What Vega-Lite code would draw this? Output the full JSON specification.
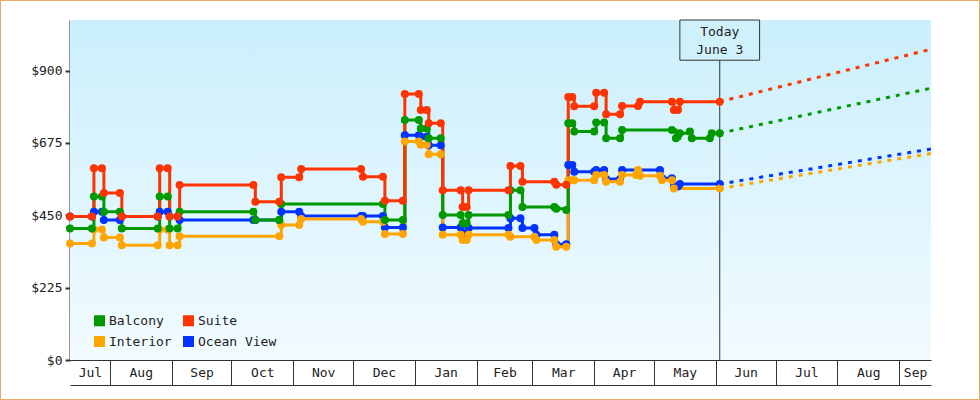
{
  "$schema": "https://vega.github.io/schema/vega-lite/v6.json",
  "width": 861,
  "height": 340,
  "autosize": {"type": "none"},
  "padding": {"left": 70, "top": 20, "right": 49, "bottom": 40},
  "background": "white",
  "config": {
    "view": {"stroke": null},
    "font": "DejaVu Sans Mono",
    "axis": {"labelFont": "DejaVu Sans Mono", "labelFontSize": 13, "labelColor": "#222", "grid": false, "domainColor": "#333", "tickColor": "#333", "title": null},
    "legend": {"labelFont": "DejaVu Sans Mono", "labelFontSize": 13, "labelColor": "#222"}
  },
  "datasets": {
    "prices": [
      {"d": "2018-07-12", "s": "Ocean View", "v": 446},
      {"d": "2018-07-23", "s": "Ocean View", "v": 446},
      {"d": "2018-07-24", "s": "Ocean View", "v": 461},
      {"d": "2018-07-28", "s": "Ocean View", "v": 461},
      {"d": "2018-07-29", "s": "Ocean View", "v": 435},
      {"d": "2018-08-06", "s": "Ocean View", "v": 435},
      {"d": "2018-08-07", "s": "Ocean View", "v": 446},
      {"d": "2018-08-25", "s": "Ocean View", "v": 446},
      {"d": "2018-08-26", "s": "Ocean View", "v": 461},
      {"d": "2018-08-30", "s": "Ocean View", "v": 461},
      {"d": "2018-08-31", "s": "Ocean View", "v": 446},
      {"d": "2018-09-04", "s": "Ocean View", "v": 446},
      {"d": "2018-09-05", "s": "Ocean View", "v": 435},
      {"d": "2018-10-12", "s": "Ocean View", "v": 435},
      {"d": "2018-10-13", "s": "Ocean View", "v": 435},
      {"d": "2018-10-25", "s": "Ocean View", "v": 435},
      {"d": "2018-10-26", "s": "Ocean View", "v": 461},
      {"d": "2018-11-04", "s": "Ocean View", "v": 461},
      {"d": "2018-11-05", "s": "Ocean View", "v": 448},
      {"d": "2018-12-05", "s": "Ocean View", "v": 448},
      {"d": "2018-12-06", "s": "Ocean View", "v": 448},
      {"d": "2018-12-16", "s": "Ocean View", "v": 448},
      {"d": "2018-12-17", "s": "Ocean View", "v": 412},
      {"d": "2018-12-26", "s": "Ocean View", "v": 412},
      {"d": "2018-12-27", "s": "Ocean View", "v": 699},
      {"d": "2019-01-03", "s": "Ocean View", "v": 699},
      {"d": "2019-01-04", "s": "Ocean View", "v": 694},
      {"d": "2019-01-07", "s": "Ocean View", "v": 694},
      {"d": "2019-01-08", "s": "Ocean View", "v": 668},
      {"d": "2019-01-14", "s": "Ocean View", "v": 668},
      {"d": "2019-01-15", "s": "Ocean View", "v": 412},
      {"d": "2019-01-24", "s": "Ocean View", "v": 412},
      {"d": "2019-01-25", "s": "Ocean View", "v": 394},
      {"d": "2019-01-27", "s": "Ocean View", "v": 394},
      {"d": "2019-01-28", "s": "Ocean View", "v": 410},
      {"d": "2019-02-17", "s": "Ocean View", "v": 410},
      {"d": "2019-02-18", "s": "Ocean View", "v": 441},
      {"d": "2019-02-23", "s": "Ocean View", "v": 441},
      {"d": "2019-02-24", "s": "Ocean View", "v": 410},
      {"d": "2019-03-02", "s": "Ocean View", "v": 410},
      {"d": "2019-03-03", "s": "Ocean View", "v": 389},
      {"d": "2019-03-12", "s": "Ocean View", "v": 389},
      {"d": "2019-03-13", "s": "Ocean View", "v": 360},
      {"d": "2019-03-18", "s": "Ocean View", "v": 360},
      {"d": "2019-03-19", "s": "Ocean View", "v": 606},
      {"d": "2019-03-21", "s": "Ocean View", "v": 606},
      {"d": "2019-03-22", "s": "Ocean View", "v": 585},
      {"d": "2019-04-01", "s": "Ocean View", "v": 585},
      {"d": "2019-04-02", "s": "Ocean View", "v": 591},
      {"d": "2019-04-06", "s": "Ocean View", "v": 591},
      {"d": "2019-04-07", "s": "Ocean View", "v": 563},
      {"d": "2019-04-14", "s": "Ocean View", "v": 563},
      {"d": "2019-04-15", "s": "Ocean View", "v": 591},
      {"d": "2019-05-04", "s": "Ocean View", "v": 591},
      {"d": "2019-05-05", "s": "Ocean View", "v": 565},
      {"d": "2019-05-10", "s": "Ocean View", "v": 565},
      {"d": "2019-05-11", "s": "Ocean View", "v": 539},
      {"d": "2019-05-13", "s": "Ocean View", "v": 539},
      {"d": "2019-05-14", "s": "Ocean View", "v": 547},
      {"d": "2019-06-03", "s": "Ocean View", "v": 547},

      {"d": "2018-07-12", "s": "Interior", "v": 362},
      {"d": "2018-07-23", "s": "Interior", "v": 362},
      {"d": "2018-07-24", "s": "Interior", "v": 406},
      {"d": "2018-07-28", "s": "Interior", "v": 406},
      {"d": "2018-07-29", "s": "Interior", "v": 381},
      {"d": "2018-08-06", "s": "Interior", "v": 381},
      {"d": "2018-08-07", "s": "Interior", "v": 357},
      {"d": "2018-08-25", "s": "Interior", "v": 357},
      {"d": "2018-08-26", "s": "Interior", "v": 406},
      {"d": "2018-08-30", "s": "Interior", "v": 406},
      {"d": "2018-08-31", "s": "Interior", "v": 357},
      {"d": "2018-09-04", "s": "Interior", "v": 357},
      {"d": "2018-09-05", "s": "Interior", "v": 385},
      {"d": "2018-10-25", "s": "Interior", "v": 385},
      {"d": "2018-10-26", "s": "Interior", "v": 420},
      {"d": "2018-11-04", "s": "Interior", "v": 420},
      {"d": "2018-11-05", "s": "Interior", "v": 438},
      {"d": "2018-12-05", "s": "Interior", "v": 438},
      {"d": "2018-12-06", "s": "Interior", "v": 430},
      {"d": "2018-12-16", "s": "Interior", "v": 430},
      {"d": "2018-12-17", "s": "Interior", "v": 392},
      {"d": "2018-12-26", "s": "Interior", "v": 392},
      {"d": "2018-12-27", "s": "Interior", "v": 679},
      {"d": "2019-01-03", "s": "Interior", "v": 679},
      {"d": "2019-01-04", "s": "Interior", "v": 669},
      {"d": "2019-01-07", "s": "Interior", "v": 669},
      {"d": "2019-01-08", "s": "Interior", "v": 640},
      {"d": "2019-01-14", "s": "Interior", "v": 640},
      {"d": "2019-01-15", "s": "Interior", "v": 389},
      {"d": "2019-01-24", "s": "Interior", "v": 389},
      {"d": "2019-01-25", "s": "Interior", "v": 373},
      {"d": "2019-01-27", "s": "Interior", "v": 373},
      {"d": "2019-01-28", "s": "Interior", "v": 389},
      {"d": "2019-02-17", "s": "Interior", "v": 389},
      {"d": "2019-02-18", "s": "Interior", "v": 383},
      {"d": "2019-03-02", "s": "Interior", "v": 383},
      {"d": "2019-03-03", "s": "Interior", "v": 373},
      {"d": "2019-03-12", "s": "Interior", "v": 373},
      {"d": "2019-03-13", "s": "Interior", "v": 352},
      {"d": "2019-03-18", "s": "Interior", "v": 352},
      {"d": "2019-03-19", "s": "Interior", "v": 559},
      {"d": "2019-03-21", "s": "Interior", "v": 559},
      {"d": "2019-03-22", "s": "Interior", "v": 559},
      {"d": "2019-04-01", "s": "Interior", "v": 559},
      {"d": "2019-04-02", "s": "Interior", "v": 575},
      {"d": "2019-04-06", "s": "Interior", "v": 575},
      {"d": "2019-04-07", "s": "Interior", "v": 554},
      {"d": "2019-04-14", "s": "Interior", "v": 554},
      {"d": "2019-04-15", "s": "Interior", "v": 575},
      {"d": "2019-04-22", "s": "Interior", "v": 575},
      {"d": "2019-04-23", "s": "Interior", "v": 591},
      {"d": "2019-04-24", "s": "Interior", "v": 573},
      {"d": "2019-05-04", "s": "Interior", "v": 573},
      {"d": "2019-05-05", "s": "Interior", "v": 559},
      {"d": "2019-05-10", "s": "Interior", "v": 559},
      {"d": "2019-05-11", "s": "Interior", "v": 533},
      {"d": "2019-06-03", "s": "Interior", "v": 533},

      {"d": "2018-07-12", "s": "Balcony", "v": 409},
      {"d": "2018-07-23", "s": "Balcony", "v": 409},
      {"d": "2018-07-24", "s": "Balcony", "v": 508},
      {"d": "2018-07-28", "s": "Balcony", "v": 508},
      {"d": "2018-07-29", "s": "Balcony", "v": 461},
      {"d": "2018-08-06", "s": "Balcony", "v": 461},
      {"d": "2018-08-07", "s": "Balcony", "v": 409},
      {"d": "2018-08-25", "s": "Balcony", "v": 409},
      {"d": "2018-08-26", "s": "Balcony", "v": 508},
      {"d": "2018-08-30", "s": "Balcony", "v": 508},
      {"d": "2018-08-31", "s": "Balcony", "v": 409},
      {"d": "2018-09-04", "s": "Balcony", "v": 409},
      {"d": "2018-09-05", "s": "Balcony", "v": 461},
      {"d": "2018-10-12", "s": "Balcony", "v": 461},
      {"d": "2018-10-13", "s": "Balcony", "v": 435},
      {"d": "2018-10-25", "s": "Balcony", "v": 435},
      {"d": "2018-10-26", "s": "Balcony", "v": 485},
      {"d": "2018-12-16", "s": "Balcony", "v": 485},
      {"d": "2018-12-17", "s": "Balcony", "v": 435},
      {"d": "2018-12-26", "s": "Balcony", "v": 435},
      {"d": "2018-12-27", "s": "Balcony", "v": 746},
      {"d": "2019-01-03", "s": "Balcony", "v": 746},
      {"d": "2019-01-04", "s": "Balcony", "v": 720},
      {"d": "2019-01-07", "s": "Balcony", "v": 720},
      {"d": "2019-01-08", "s": "Balcony", "v": 689},
      {"d": "2019-01-14", "s": "Balcony", "v": 689},
      {"d": "2019-01-15", "s": "Balcony", "v": 451},
      {"d": "2019-01-24", "s": "Balcony", "v": 451},
      {"d": "2019-01-25", "s": "Balcony", "v": 425},
      {"d": "2019-01-27", "s": "Balcony", "v": 425},
      {"d": "2019-01-28", "s": "Balcony", "v": 451},
      {"d": "2019-02-17", "s": "Balcony", "v": 451},
      {"d": "2019-02-18", "s": "Balcony", "v": 528},
      {"d": "2019-02-23", "s": "Balcony", "v": 528},
      {"d": "2019-02-24", "s": "Balcony", "v": 476},
      {"d": "2019-03-12", "s": "Balcony", "v": 476},
      {"d": "2019-03-13", "s": "Balcony", "v": 470},
      {"d": "2019-03-18", "s": "Balcony", "v": 466},
      {"d": "2019-03-19", "s": "Balcony", "v": 736},
      {"d": "2019-03-21", "s": "Balcony", "v": 736},
      {"d": "2019-03-22", "s": "Balcony", "v": 710},
      {"d": "2019-04-01", "s": "Balcony", "v": 710},
      {"d": "2019-04-02", "s": "Balcony", "v": 738},
      {"d": "2019-04-06", "s": "Balcony", "v": 738},
      {"d": "2019-04-07", "s": "Balcony", "v": 689},
      {"d": "2019-04-14", "s": "Balcony", "v": 689},
      {"d": "2019-04-15", "s": "Balcony", "v": 715},
      {"d": "2019-05-10", "s": "Balcony", "v": 715},
      {"d": "2019-05-12", "s": "Balcony", "v": 689},
      {"d": "2019-05-14", "s": "Balcony", "v": 705},
      {"d": "2019-05-19", "s": "Balcony", "v": 710},
      {"d": "2019-05-20", "s": "Balcony", "v": 689},
      {"d": "2019-05-29", "s": "Balcony", "v": 689},
      {"d": "2019-05-30", "s": "Balcony", "v": 705},
      {"d": "2019-06-03", "s": "Balcony", "v": 705},

      {"d": "2018-07-12", "s": "Suite", "v": 446},
      {"d": "2018-07-23", "s": "Suite", "v": 446},
      {"d": "2018-07-24", "s": "Suite", "v": 596},
      {"d": "2018-07-28", "s": "Suite", "v": 596},
      {"d": "2018-07-29", "s": "Suite", "v": 519},
      {"d": "2018-08-06", "s": "Suite", "v": 519},
      {"d": "2018-08-07", "s": "Suite", "v": 446},
      {"d": "2018-08-25", "s": "Suite", "v": 446},
      {"d": "2018-08-26", "s": "Suite", "v": 596},
      {"d": "2018-08-30", "s": "Suite", "v": 596},
      {"d": "2018-08-31", "s": "Suite", "v": 446},
      {"d": "2018-09-04", "s": "Suite", "v": 446},
      {"d": "2018-09-05", "s": "Suite", "v": 544},
      {"d": "2018-10-12", "s": "Suite", "v": 544},
      {"d": "2018-10-13", "s": "Suite", "v": 492},
      {"d": "2018-10-25", "s": "Suite", "v": 492},
      {"d": "2018-10-26", "s": "Suite", "v": 568},
      {"d": "2018-11-04", "s": "Suite", "v": 568},
      {"d": "2018-11-05", "s": "Suite", "v": 594},
      {"d": "2018-12-05", "s": "Suite", "v": 594},
      {"d": "2018-12-06", "s": "Suite", "v": 570},
      {"d": "2018-12-16", "s": "Suite", "v": 570},
      {"d": "2018-12-17", "s": "Suite", "v": 495},
      {"d": "2018-12-26", "s": "Suite", "v": 495},
      {"d": "2018-12-27", "s": "Suite", "v": 827},
      {"d": "2019-01-03", "s": "Suite", "v": 827},
      {"d": "2019-01-04", "s": "Suite", "v": 777},
      {"d": "2019-01-07", "s": "Suite", "v": 777},
      {"d": "2019-01-08", "s": "Suite", "v": 736},
      {"d": "2019-01-14", "s": "Suite", "v": 736},
      {"d": "2019-01-15", "s": "Suite", "v": 528},
      {"d": "2019-01-24", "s": "Suite", "v": 528},
      {"d": "2019-01-25", "s": "Suite", "v": 476},
      {"d": "2019-01-27", "s": "Suite", "v": 476},
      {"d": "2019-01-28", "s": "Suite", "v": 528},
      {"d": "2019-02-17", "s": "Suite", "v": 528},
      {"d": "2019-02-18", "s": "Suite", "v": 603},
      {"d": "2019-02-23", "s": "Suite", "v": 603},
      {"d": "2019-02-24", "s": "Suite", "v": 554},
      {"d": "2019-03-12", "s": "Suite", "v": 554},
      {"d": "2019-03-13", "s": "Suite", "v": 545},
      {"d": "2019-03-18", "s": "Suite", "v": 545},
      {"d": "2019-03-19", "s": "Suite", "v": 818},
      {"d": "2019-03-21", "s": "Suite", "v": 818},
      {"d": "2019-03-22", "s": "Suite", "v": 789},
      {"d": "2019-04-01", "s": "Suite", "v": 789},
      {"d": "2019-04-02", "s": "Suite", "v": 831},
      {"d": "2019-04-06", "s": "Suite", "v": 831},
      {"d": "2019-04-07", "s": "Suite", "v": 764},
      {"d": "2019-04-14", "s": "Suite", "v": 764},
      {"d": "2019-04-15", "s": "Suite", "v": 790},
      {"d": "2019-04-23", "s": "Suite", "v": 790},
      {"d": "2019-04-24", "s": "Suite", "v": 803},
      {"d": "2019-05-10", "s": "Suite", "v": 803},
      {"d": "2019-05-11", "s": "Suite", "v": 777},
      {"d": "2019-05-13", "s": "Suite", "v": 777},
      {"d": "2019-05-14", "s": "Suite", "v": 803},
      {"d": "2019-06-03", "s": "Suite", "v": 803}
    ],
    "proj": [
      {"d": "2019-06-03", "s": "Ocean View", "v": 547},
      {"d": "2019-09-17", "s": "Ocean View", "v": 656},
      {"d": "2019-06-03", "s": "Interior", "v": 533},
      {"d": "2019-09-17", "s": "Interior", "v": 642},
      {"d": "2019-06-03", "s": "Balcony", "v": 705},
      {"d": "2019-09-17", "s": "Balcony", "v": 845},
      {"d": "2019-06-03", "s": "Suite", "v": 803},
      {"d": "2019-09-17", "s": "Suite", "v": 966}
    ],
    "today": [
      {"d": "2019-06-03", "label": "Today\nJune 3"}
    ]
  },
  "layer": [
    {
      "data": {"name": "today"},
      "mark": {"type": "rect", "clip": true, "color": {"gradient": "linear", "x1": 0, "y1": 0, "x2": 0, "y2": 1, "stops": [{"offset": 0, "color": "#caeffc"}, {"offset": 1, "color": "#f2fbff"}]}},
      "encoding": {
        "x": {"datum": {"year": 2018, "month": 7, "date": 12, "utc": true}, "type": "temporal", "axis": null, "scale": {"type": "utc", "domain": [{"year": 2018, "month": 7, "date": 12, "utc": true}, {"year": 2019, "month": 9, "date": 17, "utc": true}]}},
        "x2": {"datum": {"year": 2019, "month": 9, "date": 17, "utc": true}},
        "y": {"datum": 1057, "type": "quantitative", "axis": null, "scale": {"domain": [0, 1057], "nice": false}},
        "y2": {"datum": 0}
      }
    },
    {
      "data": {"name": "today"},
      "mark": {"type": "rule", "color": "#333", "strokeWidth": 1},
      "encoding": {
        "x": {"field": "d", "type": "temporal", "axis": null, "scale": {"type": "utc", "domain": [{"year": 2018, "month": 7, "date": 12, "utc": true}, {"year": 2019, "month": 9, "date": 17, "utc": true}]}}
      }
    },
    {
      "data": {"name": "prices"},
      "mark": {"type": "line", "interpolate": "step-after", "strokeWidth": 3},
      "encoding": {
        "x": {"field": "d", "type": "temporal",
          "scale": {"type": "utc", "domain": [{"year": 2018, "month": 7, "date": 12, "utc": true}, {"year": 2019, "month": 9, "date": 17, "utc": true}]},
          "axis": {"orient": "bottom", "format": "%b", "ticks": false, "domain": true, "domainWidth": 1, "labelPadding": 6, "labelFlush": false, "labelOverlap": false, "labelBound": false,
            "values": [
              {"year": 2018, "month": 7, "date": 22, "utc": true},
              {"year": 2018, "month": 8, "date": 16, "hours": 12, "utc": true},
              {"year": 2018, "month": 9, "date": 16, "utc": true},
              {"year": 2018, "month": 10, "date": 16, "hours": 12, "utc": true},
              {"year": 2018, "month": 11, "date": 16, "utc": true},
              {"year": 2018, "month": 12, "date": 16, "hours": 12, "utc": true},
              {"year": 2019, "month": 1, "date": 16, "hours": 12, "utc": true},
              {"year": 2019, "month": 2, "date": 15, "utc": true},
              {"year": 2019, "month": 3, "date": 16, "hours": 12, "utc": true},
              {"year": 2019, "month": 4, "date": 16, "utc": true},
              {"year": 2019, "month": 5, "date": 16, "hours": 12, "utc": true},
              {"year": 2019, "month": 6, "date": 16, "utc": true},
              {"year": 2019, "month": 7, "date": 16, "hours": 12, "utc": true},
              {"year": 2019, "month": 8, "date": 16, "hours": 12, "utc": true},
              {"year": 2019, "month": 9, "date": 9, "utc": true}
            ]}},
        "y": {"field": "v", "type": "quantitative", "scale": {"domain": [0, 1057], "nice": false},
          "axis": {"values": [0, 225, 450, 675, 900], "format": "$d", "domainWidth": 2, "tickWidth": 2, "tickSize": 5, "labelPadding": 3, "title": null}},
        "color": {"field": "s", "type": "nominal", "legend": null,
          "scale": {"domain": ["Balcony", "Interior", "Suite", "Ocean View"], "range": ["#009900", "#ffa500", "#ff3300", "#0033ff"]}}
      }
    },
    {
      "data": {"name": "prices"},
      "mark": {"type": "point", "filled": true, "size": 64, "opacity": 1, "shape": "circle"},
      "encoding": {
        "x": {"field": "d", "type": "temporal",
          "scale": {"type": "utc", "domain": [{"year": 2018, "month": 7, "date": 12, "utc": true}, {"year": 2019, "month": 9, "date": 17, "utc": true}]},
          "axis": {"orient": "bottom", "offset": 25, "tickSize": -25, "tickWidth": 1, "labels": false, "domain": true, "domainWidth": 1,
            "values": [
              {"year": 2018, "month": 8, "date": 1, "utc": true},
              {"year": 2018, "month": 9, "date": 1, "utc": true},
              {"year": 2018, "month": 10, "date": 1, "utc": true},
              {"year": 2018, "month": 11, "date": 1, "utc": true},
              {"year": 2018, "month": 12, "date": 1, "utc": true},
              {"year": 2019, "month": 1, "date": 1, "utc": true},
              {"year": 2019, "month": 2, "date": 1, "utc": true},
              {"year": 2019, "month": 3, "date": 1, "utc": true},
              {"year": 2019, "month": 4, "date": 1, "utc": true},
              {"year": 2019, "month": 5, "date": 1, "utc": true},
              {"year": 2019, "month": 6, "date": 1, "utc": true},
              {"year": 2019, "month": 7, "date": 1, "utc": true},
              {"year": 2019, "month": 8, "date": 1, "utc": true},
              {"year": 2019, "month": 9, "date": 1, "utc": true}
            ]}},
        "y": {"field": "v", "type": "quantitative", "scale": {"domain": [0, 1057], "nice": false}, "axis": null},
        "color": {"field": "s", "type": "nominal",
          "scale": {"domain": ["Balcony", "Interior", "Suite", "Ocean View"], "range": ["#009900", "#ffa500", "#ff3300", "#0033ff"]},
          "legend": {"orient": "none", "legendX": 23, "legendY": 294, "columns": 2, "title": null, "symbolType": "square", "symbolSize": 121, "symbolStrokeWidth": 0, "columnPadding": 10, "rowPadding": 7, "labelOffset": 3, "padding": 0}}
      }
    },
    {
      "data": {"name": "proj"},
      "mark": {"type": "line", "strokeWidth": 3, "strokeDash": [4, 6]},
      "encoding": {
        "x": {"field": "d", "type": "temporal", "axis": null, "scale": {"type": "utc", "domain": [{"year": 2018, "month": 7, "date": 12, "utc": true}, {"year": 2019, "month": 9, "date": 17, "utc": true}]}},
        "y": {"field": "v", "type": "quantitative", "scale": {"domain": [0, 1057], "nice": false}, "axis": null},
        "color": {"field": "s", "type": "nominal", "legend": null,
          "scale": {"domain": ["Balcony", "Interior", "Suite", "Ocean View"], "range": ["#009900", "#ffa500", "#ff3300", "#0033ff"]}}
      }
    },
    {
      "data": {"name": "today"},
      "mark": {"type": "rect", "fill": "#cff1fc", "stroke": "#333", "strokeWidth": 1},
      "encoding": {
        "x": {"datum": {"year": 2019, "month": 5, "date": 14, "utc": true}, "type": "temporal", "axis": null, "scale": {"type": "utc", "domain": [{"year": 2018, "month": 7, "date": 12, "utc": true}, {"year": 2019, "month": 9, "date": 17, "utc": true}]}},
        "x2": {"datum": {"year": 2019, "month": 6, "date": 23, "utc": true}},
        "y": {"datum": 1057, "type": "quantitative", "axis": null, "scale": {"domain": [0, 1057], "nice": false}},
        "y2": {"datum": 932}
      }
    },
    {
      "data": {"name": "today"},
      "mark": {"type": "text", "align": "center", "baseline": "middle", "lineBreak": "\n", "lineHeight": 18, "font": "DejaVu Sans Mono", "fontSize": 13, "color": "#222"},
      "encoding": {
        "x": {"field": "d", "type": "temporal", "axis": null, "scale": {"type": "utc", "domain": [{"year": 2018, "month": 7, "date": 12, "utc": true}, {"year": 2019, "month": 9, "date": 17, "utc": true}]}},
        "y": {"datum": 1019, "type": "quantitative", "axis": null, "scale": {"domain": [0, 1057], "nice": false}},
        "text": {"field": "label"}
      }
    },
    {
      "data": {"name": "today"},
      "mark": {"type": "rect", "fill": null, "fillOpacity": 0, "stroke": "#e8aa66", "strokeWidth": 2, "clip": false},
      "encoding": {
        "x": {"datum": {"year": 2018, "month": 6, "date": 6, "hours": 21, "minutes": 7, "utc": true}, "type": "temporal", "axis": null, "scale": {"type": "utc", "domain": [{"year": 2018, "month": 7, "date": 12, "utc": true}, {"year": 2019, "month": 9, "date": 17, "utc": true}]}},
        "x2": {"datum": {"year": 2019, "month": 10, "date": 11, "hours": 14, "minutes": 24, "utc": true}},
        "y": {"datum": 1119.2, "type": "quantitative", "axis": null, "scale": {"domain": [0, 1057], "nice": false}},
        "y2": {"datum": -124.4}
      }
    }
  ],
  "resolve": {"axis": {"x": "independent", "y": "independent"}, "legend": {"color": "independent"}}
}
